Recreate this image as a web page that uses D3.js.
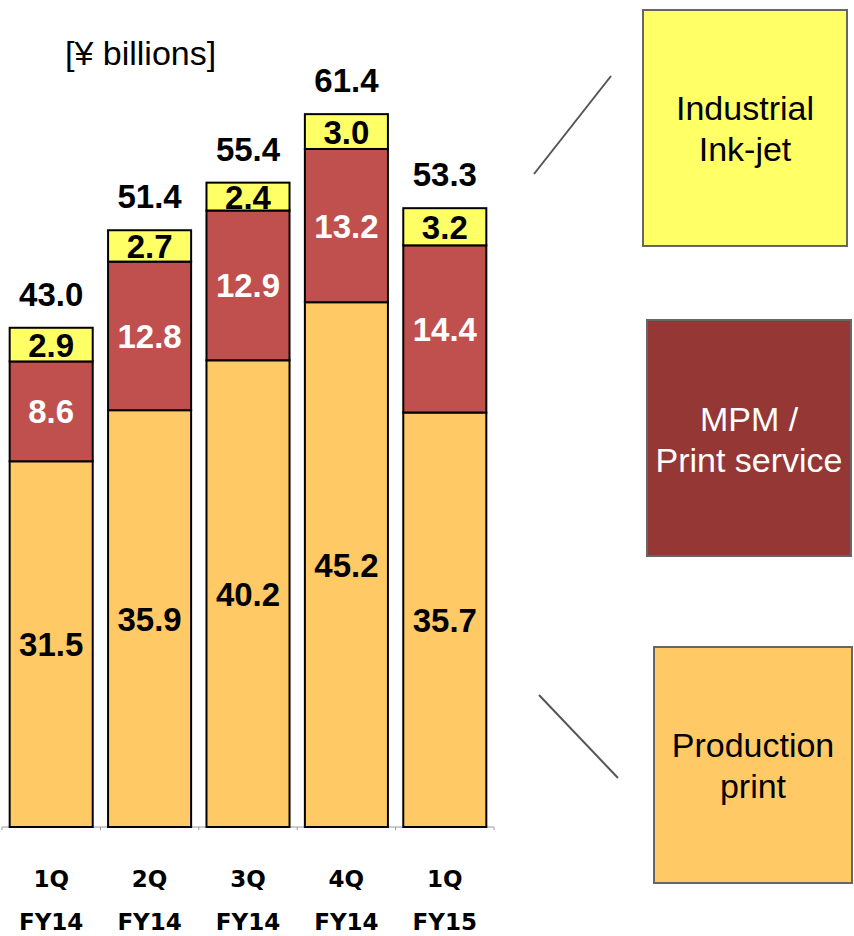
<!DOCTYPE html>
<html><head><meta charset="utf-8">
<script src="https://cdn.jsdelivr.net/npm/d3@7"></script>
<style>body{margin:0;background:#fff}svg{display:block}</style>
</head><body>
<script>
const quarters = ["1Q", "2Q", "3Q", "4Q", "1Q"];
const fiscalYears = ["FY14", "FY14", "FY14", "FY14", "FY15"];
const productionPrint = [31.5, 35.9, 40.2, 45.2, 35.7];
const mpmPrintService = [8.6, 12.8, 12.9, 13.2, 14.4];
const industrialInkjet = [2.9, 2.7, 2.4, 3.0, 3.2];
const totals = [43.0, 51.4, 55.4, 61.4, 53.3];
const seriesNames = ["Production print", "MPM / Print service", "Industrial Ink-jet"];

const W = 854, H = 936;
const svg = d3.select("body").append("svg").attr("width", W).attr("height", H);

const x = d3.scaleBand().domain(d3.range(5)).range([2, 494]).paddingInner(0.156).paddingOuter(0.078);
const y = d3.scaleLinear().domain([0, 70]).range([827, 827 - 70 * 11.61]);

const barColors = ["#FFCA66", "#C0504D", "#FFFF66"];
const labelColors = ["#000", "#fff", "#000"];
const seriesData = [productionPrint, mpmPrintService, industrialInkjet];

// axis
const axisG = svg.append("g").attr("transform", "translate(0,827)");
axisG.append("line").attr("x1", 2).attr("x2", 494).attr("y1", 0).attr("y2", 0)
  .attr("stroke", "#999").attr("stroke-width", 1);
const bounds = [0,1,2,3,4,5].map(i => i === 5 ? 494 : x(i) - x.step() * x.paddingInner() / 2);
axisG.selectAll("line.tk").data(bounds).join("line").attr("class", "tk")
  .attr("x1", d => d).attr("x2", d => d).attr("y1", 0).attr("y2", 3)
  .attr("stroke", "#999");

// stacked bars
const stackRows = d3.range(5).map(i => ({i, s0: productionPrint[i], s1: mpmPrintService[i], s2: industrialInkjet[i]}));
const stack = d3.stack().keys(["s0", "s1", "s2"])(stackRows);
stack.forEach((layer, k) => {
  const g = svg.append("g");
  g.selectAll("rect").data(layer).join("rect")
    .attr("x", d => x(d.data.i))
    .attr("width", x.bandwidth())
    .attr("y", d => y(d[1]))
    .attr("height", d => y(d[0]) - y(d[1]))
    .attr("fill", barColors[k])
    .attr("stroke", "#000").attr("stroke-width", 2);
  g.selectAll("text").data(layer).join("text")
    .attr("x", d => x(d.data.i) + x.bandwidth() / 2)
    .attr("y", d => (y(d[0]) + y(d[1])) / 2 + 12)
    .attr("text-anchor", "middle")
    .attr("font-family", "Liberation Sans, Arial, sans-serif")
    .attr("font-weight", "bold").attr("font-size", 33)
    .attr("fill", labelColors[k])
    .text((d, j) => seriesData[k][j].toFixed(1));
});

// totals
svg.append("g").selectAll("text").data(totals).join("text")
  .attr("x", (d, i) => x(i) + x.bandwidth() / 2)
  .attr("y", (d, i) => y(productionPrint[i] + mpmPrintService[i] + industrialInkjet[i]) - 22)
  .attr("text-anchor", "middle")
  .attr("font-family", "Liberation Sans, Arial, sans-serif")
  .attr("font-weight", "bold").attr("font-size", 33)
  .attr("fill", "#000")
  .text(d => d.toFixed(1));

// category labels
const catG = svg.append("g")
  .attr("font-family", "DejaVu Sans, Verdana, sans-serif")
  .attr("font-weight", "bold").attr("font-size", 23).attr("text-anchor", "middle");
catG.selectAll("text.q").data(quarters).join("text").attr("class", "q")
  .attr("x", (d, i) => x(i) + x.bandwidth() / 2).attr("y", 887).text(d => d);
catG.selectAll("text.fy").data(fiscalYears).join("text").attr("class", "fy")
  .attr("x", (d, i) => x(i) + x.bandwidth() / 2).attr("y", 930).text(d => d);

// unit
svg.append("text").attr("x", 65).attr("y", 65)
  .attr("font-family", "Liberation Sans, Arial, sans-serif").attr("font-size", 34)
  .text("[¥ billions]");

// legend boxes
const legend = [
  {name: seriesNames[2], lines: ["Industrial", "Ink-jet"], x: 643, y: 10, w: 204, h: 236, fill: "#FFFF66", color: "#000", base: 120},
  {name: seriesNames[1], lines: ["MPM /", "Print service"], x: 647, y: 320, w: 204, h: 236, fill: "#953735", color: "#fff", base: 431},
  {name: seriesNames[0], lines: ["Production", "print"], x: 654, y: 647, w: 198, h: 236, fill: "#FFCA66", color: "#000", base: 757}
];
const lg = svg.append("g");
legend.forEach(l => {
  lg.append("rect").attr("x", l.x).attr("y", l.y).attr("width", l.w).attr("height", l.h)
    .attr("fill", l.fill).attr("stroke", "#666").attr("stroke-width", 2);
  l.lines.forEach((t, j) => {
    lg.append("text").attr("x", l.x + l.w / 2).attr("y", l.base + j * 41)
      .attr("text-anchor", "middle")
      .attr("font-family", "Liberation Sans, Arial, sans-serif").attr("font-size", 34)
      .attr("fill", l.color).text(t);
  });
});
// connector lines
lg.append("line").attr("x1", 534).attr("y1", 174).attr("x2", 611).attr("y2", 76)
  .attr("stroke", "#555").attr("stroke-width", 2);
lg.append("line").attr("x1", 539).attr("y1", 695).attr("x2", 618).attr("y2", 778)
  .attr("stroke", "#555").attr("stroke-width", 2);
</script>
</body></html>
